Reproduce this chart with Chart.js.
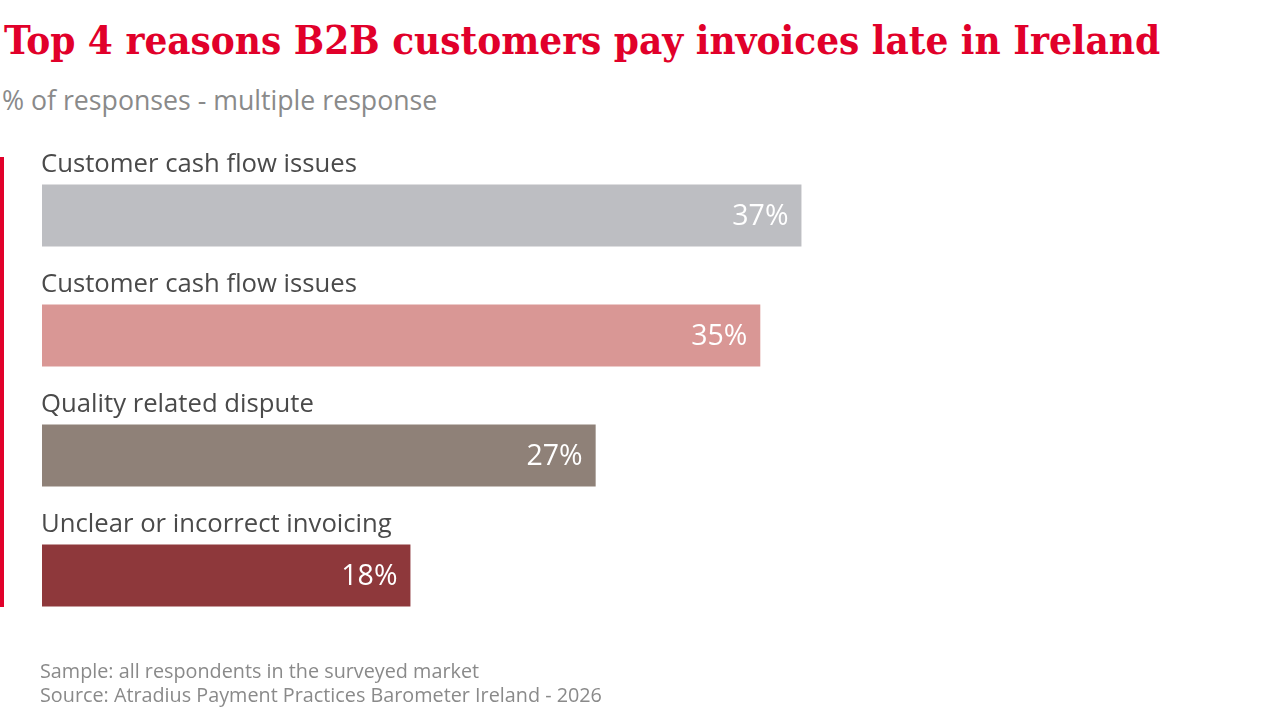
<!DOCTYPE html>
<html lang="en">
<head>
  <meta charset="UTF-8">
  <title>Top 4 reasons B2B customers pay invoices late in Ireland</title>
  <script src="https://cdn.jsdelivr.net/npm/chart.js"></script>
  <style>
    html, body { margin: 0; padding: 0; background: #fff; }
    body { width: 1280px; height: 720px; position: relative; overflow: hidden; font-family: "Open Sans", sans-serif; }
    #title { position: absolute; left: 4px; top: 16px; margin: 0; font-family: "DejaVu Serif Condensed", "DejaVu Serif", serif; font-weight: bold; font-size: 40px; color: #e1002a; white-space: nowrap; }
    #subtitle { position: absolute; left: 2px; top: 81px; font-size: 26.7px; color: #8a8a8a; white-space: nowrap; }
    #redline { position: absolute; left: 0; top: 157px; width: 4px; height: 450px; background: #e1002a; }
    #notes { position: absolute; left: 40px; top: 659px; font-size: 19.8px; line-height: 24px; color: #8a8a8a; }
    canvas { position: absolute; left: 0; top: 0; }
  </style>
</head>
<body>
  <h1 id="title">Top 4 reasons B2B customers pay invoices late in Ireland</h1>
  <div id="subtitle">% of responses - multiple response</div>
  <div id="redline"></div>
  <div style="position:absolute;left:0;top:0;width:1280px;height:720px"><canvas id="chart"></canvas></div>
  <div id="notes">Sample: all respondents in the surveyed market<br>Source: Atradius Payment Practices Barometer Ireland - 2026</div>

  <script>
    const reasons = ['Customer cash flow issues', 'Customer cash flow issues', 'Quality related dispute', 'Unclear or incorrect invoicing'];
    const shares = [37, 35, 27, 18];
    const barColors = ['#bdbec2', '#d99795', '#8f8178', '#8e383b'];

    // category name above each bar, value inside the bar end
    const barLabels = {
      id: 'barLabels',
      afterDatasetsDraw(chart) {
        const ctx = chart.ctx;
        const bars = chart.getDatasetMeta(0).data;
        ctx.save();
        bars.forEach((bar, i) => {
          const top = bar.y - bar.height / 2;
          ctx.fillStyle = '#4a4a4a';
          ctx.font = '25.7px "Open Sans", sans-serif';
          ctx.textAlign = 'left';
          ctx.textBaseline = 'alphabetic';
          ctx.fillText(reasons[i], bar.base, top - 11);
          ctx.fillStyle = '#fff';
          ctx.font = '28.5px "Open Sans", sans-serif';
          ctx.textAlign = 'right';
          ctx.textBaseline = 'middle';
          ctx.fillText(shares[i] + '%', bar.x - 14, bar.y + 1);
        });
        ctx.restore();
      }
    };

    new Chart(document.getElementById('chart'), {
      type: 'bar',
      data: {
        labels: reasons,
        datasets: [{
          data: shares,
          backgroundColor: barColors,
          borderColor: 'rgba(255,255,255,0.5)',
          borderWidth: 1,
          borderSkipped: false,
          categoryPercentage: 1,
          barPercentage: 0.535
        }]
      },
      options: {
        indexAxis: 'y',
        responsive: true,
        maintainAspectRatio: false,
        animation: false,
        layout: { padding: { left: 41, top: 155.5, right: 210, bottom: 84.5 } },
        scales: {
          x: { display: false, min: 0, max: 50 },
          y: { display: false }
        },
        plugins: {
          legend: { display: false },
          tooltip: { enabled: false }
        }
      },
      plugins: [barLabels]
    });
  </script>
</body>
</html>
